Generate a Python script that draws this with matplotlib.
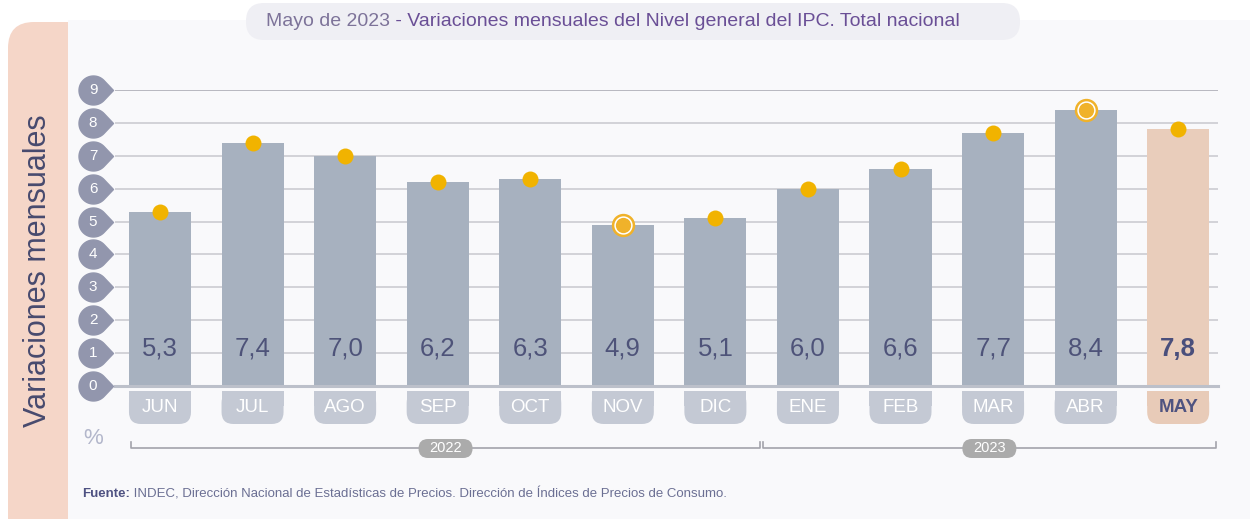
import matplotlib
matplotlib.use('Agg')
import matplotlib.pyplot as plt
import matplotlib.transforms as mtransforms
from matplotlib.patches import FancyBboxPatch, Rectangle
from matplotlib.path import Path
import numpy as np

plt.rcParams['font.family'] = ['Liberation Sans', 'DejaVu Sans']

# ---------------- data ----------------
months = ['JUN', 'JUL', 'AGO', 'SEP', 'OCT', 'NOV', 'DIC', 'ENE', 'FEB', 'MAR', 'ABR', 'MAY']
values = [5.3, 7.4, 7.0, 6.2, 6.3, 4.9, 5.1, 6.0, 6.6, 7.7, 8.4, 7.8]
value_labels = ['5,3', '7,4', '7,0', '6,2', '6,3', '4,9', '5,1', '6,0', '6,6', '7,7', '8,4', '7,8']
highlighted = ['NOV', 'ABR']
current = 'MAY'
yticks = [0, 1, 2, 3, 4, 5, 6, 7, 8, 9]
years = ['2022', '2023']
year_spans = [(-0.33, 6.5), (6.5, 11.42)]
title_a = 'Mayo de 2023'
title_b = ' - Variaciones mensuales del Nivel general del IPC. Total nacional'
ylabel = 'Variaciones mensuales'
source_a = 'Fuente:'
source_b = ' INDEC, Dirección Nacional de Estadísticas de Precios. Dirección de Índices de Precios de Consumo.'

# ---------------- colours ----------------
BAR = '#a7b1bf'
BAR_CUR = '#e9cdbb'
TAB = '#c4c9d4'
TAB_CUR = '#e8cbb8'
DOT = '#f1b300'
RING = '#f0b22a'
TXT = '#4e5379'
TICK = '#9296ad'

W, H = 1250, 519
fig = plt.figure(figsize=(12.5, 5.19), dpi=100)
fig.patch.set_facecolor('white')

bg = fig.add_axes([0, 0, 1, 1], zorder=0)
bg.set_xlim(0, W)
bg.set_ylim(H, 0)
bg.axis('off')

# panels
bg.add_patch(FancyBboxPatch((8, 22), 120, H + 40, boxstyle='round,pad=0,rounding_size=26',
                            fc='#f5d6c8', ec='none'))
bg.add_patch(Rectangle((68, 20), W - 68, H, fc='#f9f9fb', ec='none'))
# title pill
bg.add_patch(FancyBboxPatch((246, 3), 774, 37, boxstyle='round,pad=0,rounding_size=18',
                            fc='#efeff4', ec='none'))

# ---------------- main axes ----------------
x0, x1 = 115, 1218
ybase, ytop = 386, 90
ax = fig.add_axes([x0 / W, (H - ybase) / H, (x1 - x0) / W, (ybase - ytop) / H], zorder=2)
ax.set_facecolor('none')
ax.set_xlim(-0.486, 11.43)
ax.set_ylim(0, 9)
ax.axis('off')

x = np.arange(len(months))
blend = mtransforms.blended_transform_factory(ax.transAxes, ax.transData)

for yv in yticks[1:]:
    ax.axhline(yv, 0, 1, color='#b8b8c0' if yv == 9 else '#d2d2d8', lw=1.4, zorder=1)
ax.axhline(0, 0, 1, color='#bcc0ca', lw=2.2, zorder=3, clip_on=False)

# teardrop tick markers
k = 1.38
a = np.arccos(1 / k)
t = np.linspace(a, 2 * np.pi - a, 60)
verts = [(k, 0)] + [(np.cos(tt), np.sin(tt)) for tt in t] + [(k, 0)]
codes = [Path.MOVETO] + [Path.LINETO] * (len(verts) - 2) + [Path.CLOSEPOLY]
drop = Path(verts, codes)
tx = (93 - x0) / (x1 - x0)
ax.plot([tx] * len(yticks), yticks, linestyle='none', marker=drop, ms=28.8,
        color=TICK, transform=blend, clip_on=False, zorder=4)
for yv in yticks:
    ax.text(tx, yv, str(yv), transform=blend, ha='center', va='center',
            color='white', fontsize=11, zorder=5, clip_on=False)

colors = [BAR_CUR if m == current else BAR for m in months]
ax.bar(x, values, width=0.67, color=colors, zorder=2)

for i, (m, v, lbl) in enumerate(zip(months, values, value_labels)):
    if m in highlighted:
        ax.plot(i, v, 'o', ms=15, mfc='white', mec=RING, mew=1.8, zorder=5, clip_on=False)
        ax.plot(i, v, 'o', ms=11, mfc=RING, mec='none', zorder=6, clip_on=False)
    else:
        ax.plot(i, v, 'o', ms=11.5, mfc=DOT, mec='none', zorder=5, clip_on=False)
    ax.text(i, 1.14, lbl, ha='center', va='center', fontsize=18.5,
            color='#4a4f7c' if m == current else TXT,
            fontweight='bold' if m == current else 'normal', zorder=6)

# ---------------- month tabs (pixel space) ----------------
def px(xd):
    return ax.transData.transform((xd, 0))[0]

for i, m in enumerate(months):
    l = px(i - 0.335)
    r = px(i + 0.335)
    c = TAB_CUR if m == current else TAB
    bg.add_patch(FancyBboxPatch((l, 391), r - l, 33, boxstyle='round,pad=0,rounding_size=12',
                                fc=c, ec='none'))
    bg.add_patch(Rectangle((l, 391), r - l, 15, fc=c, ec='none'))
    bg.text((l + r) / 2, 407.5, m, ha='center', va='center', fontsize=13.5,
            color='#4f5380' if m == current else 'white',
            fontweight='bold' if m == current else 'normal')

# year brackets
for yr, (sa, sb) in zip(years, year_spans):
    xa, xb = px(sa) + 1.5, px(sb) - 1.5
    bg.plot([xa, xa, xb, xb], [442, 448, 448, 442], color='#a3a3ab', lw=1.2)
    cx = (xa + xb) / 2
    bg.add_patch(FancyBboxPatch((cx - 27, 439), 54, 19, boxstyle='round,pad=0,rounding_size=9.5',
                                fc='#ababab', ec='none', zorder=3))
    bg.text(cx, 448.5, yr, ha='center', va='center', fontsize=10.5, color='white', zorder=4)

bg.text(93, 439, '%', ha='center', va='center', fontsize=16, color='#b3b7cb')

# y label
bg.text(38, 271, ylabel, rotation=90, ha='center', va='center', fontsize=22, color='#474a6e')

# title
renderer = fig.canvas.get_renderer()
ta = bg.text(266, 21.5, title_a, ha='left', va='center', fontsize=14, color='#7d7399')
bb = ta.get_window_extent(renderer)
xa_end = bg.transData.inverted().transform((bb.x1, 0))[0]
bg.text(xa_end, 21.5, title_b, ha='left', va='center', fontsize=14, color='#6a4f96')

# source
sa_t = bg.text(82, 494, source_a, ha='left', va='center', fontsize=9.5, color='#4f5282', fontweight='bold')
bb = sa_t.get_window_extent(renderer)
xs_end = bg.transData.inverted().transform((bb.x1, 0))[0]
bg.text(xs_end, 494, source_b, ha='left', va='center', fontsize=9.5, color='#6b6f93')

fig.savefig('out.png', dpi=100, facecolor='white')
